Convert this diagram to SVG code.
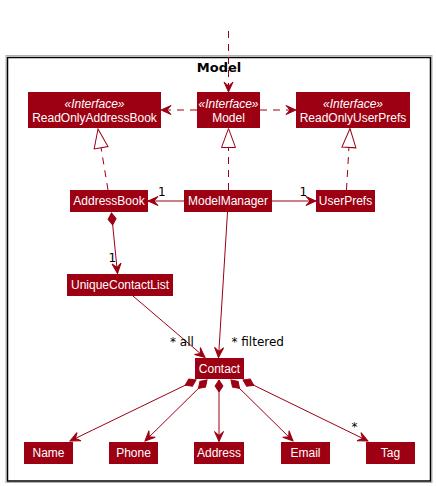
<svg xmlns="http://www.w3.org/2000/svg" width="436" height="486" viewBox="0 0 436 486">
<style>
.box{fill:#9D0012;stroke:none}
.t{font-family:"Liberation Sans",Arial,sans-serif;font-size:12px;fill:#fff;text-anchor:middle}
.st{font-style:italic}
.lbl{font-family:"DejaVu Sans",sans-serif;font-size:12px;fill:#000}
.ln{stroke:#9D0012;stroke-width:1;fill:none}
.dash{stroke-dasharray:7,6}
</style>
<defs>
<marker id="arr" viewBox="-12 -6 13 12" refX="0" refY="0" markerWidth="13" markerHeight="12" markerUnits="userSpaceOnUse" orient="auto">
<path d="M0,0 L-10,-4.5 L-6,0 L-10,4.5 Z" fill="#9D0012" stroke="#9D0012" stroke-width="1" stroke-linejoin="miter"/>
</marker>
<marker id="tri" viewBox="-21 -9 22 18" refX="0" refY="0" markerWidth="22" markerHeight="18" markerUnits="userSpaceOnUse" orient="auto">
<path d="M0,0 L-19,-7 L-19,7 Z" fill="#fff" stroke="#9D0012" stroke-width="1"/>
</marker>
<marker id="dia" viewBox="-1 -5 14 10" refX="0" refY="0" markerWidth="14" markerHeight="10" markerUnits="userSpaceOnUse" orient="auto">
<path d="M0,0 L6,-4 L12,0 L6,4 Z" fill="#9D0012" stroke="#9D0012" stroke-width="1"/>
</marker>
</defs>
<rect width="436" height="486" fill="#fff"/>
<g id="package">
<rect x="6" y="55.5" width="426" height="427" fill="none" stroke="#b0b0b0" stroke-width="1"/>
<rect x="7.5" y="57.5" width="423" height="423.5" fill="none" stroke="#000" stroke-width="1.5"/>
<text x="219" y="72" font-family="DejaVu Sans,sans-serif" font-size="13" font-weight="bold" text-anchor="middle" fill="#000">Model</text>
</g>
<g id="connectors">
<path class="ln dash" d="M228.5,31 L228.5,92" marker-end="url(#arr)"/>
<path class="ln dash" d="M197,110 L161,110" marker-end="url(#arr)"/>
<path class="ln dash" d="M260,110 L296,110" marker-end="url(#arr)"/>
<path class="ln dash" d="M108,190 L98,129" marker-end="url(#tri)"/>
<path class="ln dash" d="M228.5,190 L228.5,128.5" marker-end="url(#tri)"/>
<path class="ln dash" d="M346.5,190 L350,128.5" marker-end="url(#tri)"/>
<path class="ln" d="M184,201 L148,201" marker-end="url(#arr)"/>
<path class="ln" d="M272,201 L316,201" marker-end="url(#arr)"/>
<path class="ln" d="M111.5,213 L117.5,273.5" marker-start="url(#dia)" marker-end="url(#arr)"/>
<path class="ln" d="M227.5,212 L218.5,357.5" marker-end="url(#arr)"/>
<path class="ln" d="M133,296 L205,357.5" marker-end="url(#arr)"/>
<path class="ln" d="M196,380 L70,441" marker-start="url(#dia)" marker-end="url(#arr)"/>
<path class="ln" d="M207,380 L145,441" marker-start="url(#dia)" marker-end="url(#arr)"/>
<path class="ln" d="M219,380 L219,441.5" marker-start="url(#dia)" marker-end="url(#arr)"/>
<path class="ln" d="M231,380 L293,441" marker-start="url(#dia)" marker-end="url(#arr)"/>
<path class="ln" d="M243,380 L368,441" marker-start="url(#dia)" marker-end="url(#arr)"/>
<text class="lbl" x="158" y="195.5">1</text>
<text class="lbl" x="299.5" y="196">1</text>
<text class="lbl" x="108.5" y="262">1</text>
<text class="lbl" x="170" y="346">* all</text>
<text class="lbl" x="231.5" y="346">* filtered</text>
<text class="lbl" x="351.5" y="431">*</text>
</g>
<g id="ReadOnlyAddressBook">
<rect class="box" x="28" y="92" width="133" height="36"/>
<text class="t st" x="94.5" y="108.3">«Interface»</text>
<text class="t" x="94.5" y="121.5">ReadOnlyAddressBook</text>
</g>
<g id="ModelInterface">
<rect class="box" x="197" y="92" width="63" height="36"/>
<text class="t st" x="228.5" y="108.3">«Interface»</text>
<text class="t" x="228.5" y="121.5">Model</text>
</g>
<g id="ReadOnlyUserPrefs">
<rect class="box" x="296" y="92" width="114" height="36"/>
<text class="t st" x="353" y="108.3">«Interface»</text>
<text class="t" x="353" y="121.5">ReadOnlyUserPrefs</text>
</g>
<g id="AddressBook">
<rect class="box" x="70" y="190" width="78" height="22"/>
<text class="t" x="109" y="205">AddressBook</text>
</g>
<g id="ModelManager">
<rect class="box" x="184" y="190" width="88" height="22"/>
<text class="t" x="228" y="205">ModelManager</text>
</g>
<g id="UserPrefs">
<rect class="box" x="316" y="190" width="59" height="22"/>
<text class="t" x="345.5" y="205">UserPrefs</text>
</g>
<g id="UniqueContactList">
<rect class="box" x="67" y="274" width="106" height="22"/>
<text class="t" x="120" y="289">UniqueContactList</text>
</g>
<g id="Contact">
<rect class="box" x="195" y="358" width="49" height="21"/>
<text class="t" x="219.5" y="373">Contact</text>
</g>
<g id="Name">
<rect class="box" x="24" y="442" width="49" height="22"/>
<text class="t" x="48.5" y="457">Name</text>
</g>
<g id="Phone">
<rect class="box" x="109" y="442" width="49" height="22"/>
<text class="t" x="133.5" y="457">Phone</text>
</g>
<g id="Address">
<rect class="box" x="194" y="442" width="50" height="22"/>
<text class="t" x="219" y="457">Address</text>
</g>
<g id="Email">
<rect class="box" x="281" y="442" width="49" height="22"/>
<text class="t" x="305.5" y="457">Email</text>
</g>
<g id="Tag">
<rect class="box" x="366" y="442" width="49" height="22"/>
<text class="t" x="390.5" y="457">Tag</text>
</g>
</svg>
